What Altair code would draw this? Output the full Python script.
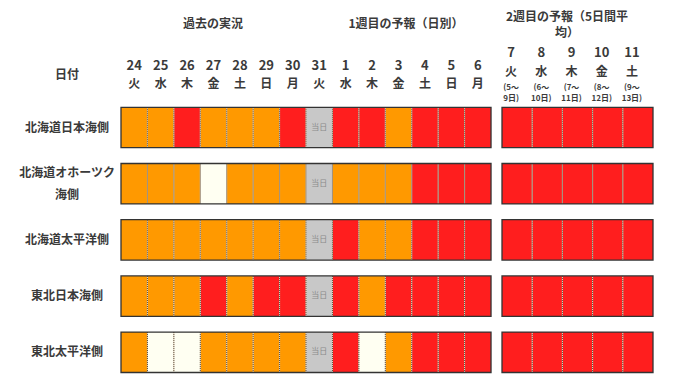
import altair as alt
import pandas as pd

# ---------------- data ----------------
regions = ["北海道日本海側", "北海道オホーツク\n海側", "北海道太平洋側", "東北日本海側", "東北太平洋側"]

week1_days = ["24", "25", "26", "27", "28", "29", "30", "31", "1", "2", "3", "4", "5", "6"]
week1_wd = ["火", "水", "木", "金", "土", "日", "月", "火", "水", "木", "金", "土", "日", "月"]

week2_days = ["7", "8", "9", "10", "11"]
week2_wd = ["火", "水", "木", "金", "土"]
week2_from = ["(5～", "(6～", "(7～", "(8～", "(9～"]
week2_to = ["9日)", "10日)", "11日)", "12日)", "13日)"]

# categories: H = 高い (orange), VH = かなり高い (red), N = 平年並 (cream), T = 当日 (gray)
week1_cat = [
    ["H", "H", "VH", "H", "H", "H", "VH", "T", "VH", "VH", "H", "VH", "VH", "VH"],
    ["H", "H", "H", "N", "H", "H", "H", "T", "H", "H", "H", "VH", "VH", "VH"],
    ["H", "H", "H", "H", "H", "H", "H", "T", "VH", "H", "H", "VH", "VH", "VH"],
    ["H", "H", "H", "VH", "H", "VH", "VH", "T", "VH", "H", "VH", "VH", "VH", "VH"],
    ["H", "N", "N", "H", "H", "H", "H", "T", "VH", "N", "H", "VH", "VH", "VH"],
]
week2_cat = [
    ["VH", "VH", "VH", "VH", "VH"],
    ["VH", "VH", "VH", "VH", "VH"],
    ["VH", "VH", "VH", "VH", "VH"],
    ["VH", "VH", "VH", "VH", "VH"],
    ["VH", "VH", "VH", "VH", "VH"],
]

cat_domain = ["H", "VH", "N", "T"]
cat_colors = ["#FF9900", "#FF1E1E", "#FFFFF2", "#C8C8C8"]

header_past = "過去の実況"
header_w1 = "1週目の予報（日別）"
header_w2_a = "2週目の予報（5日間平"
header_w2_b = "均）"
header_date = "日付"
today_label = "当日"

# ---------------- layout (scale units) ----------------
W, H = 664, 366
CELL = 26.43          # px per week-1 cell
X0_PX = 121 - 8       # left edge of block 1 in chart px
XMIN = -X0_PX / CELL
XMAX = XMIN + W / CELL
W2_START = (502 - 8 - X0_PX) / CELL
W2_CELL = 30.2 / CELL

ROW0 = 127.5 - 8
PITCH = 56.2
YMIN = -ROW0 / PITCH
YMAX = YMIN + H / PITCH
HALF = 20.2 / PITCH
LABEL_LH = 22


def xpx(p):
    return (p - 8 - X0_PX) / CELL


def ypx(p):
    return (p - 8 - ROW0) / PITCH


FONT = "Noto Sans CJK JP"
TXT = "#3a3a3a"

xs = alt.Scale(domain=[XMIN, XMAX], nice=False, zero=False)
ys = alt.Scale(domain=[YMIN, YMAX], nice=False, zero=False, reverse=True)

# ---------------- build tables ----------------
cells, divs, boxes = [], [], []
for r in range(len(regions)):
    for i, c in enumerate(week1_cat[r]):
        cells.append(dict(x=i, x2=i + 1, y=r - HALF, y2=r + HALF, cat=c,
                          t=today_label if c == "T" else "", xc=i + 0.5, yc=r))
        if i > 0:
            divs.append(dict(x=i, y=r - HALF, y2=r + HALF))
    boxes.append(dict(x=0, x2=len(week1_cat[r]), y=r - HALF, y2=r + HALF))
    for i, c in enumerate(week2_cat[r]):
        a = W2_START + i * W2_CELL
        cells.append(dict(x=a, x2=a + W2_CELL, y=r - HALF, y2=r + HALF, cat=c,
                          t="", xc=a + W2_CELL / 2, yc=r))
        if i > 0:
            divs.append(dict(x=a, y=r - HALF, y2=r + HALF))
    boxes.append(dict(x=W2_START, x2=W2_START + 5 * W2_CELL, y=r - HALF, y2=r + HALF))

cells = pd.DataFrame(cells)
divs = pd.DataFrame(divs)
boxes = pd.DataFrame(boxes)

# multi-line labels: first line is anchored, so shift block up to center it on the row
rowlab = pd.DataFrame(dict(
    x=[xpx(67)] * len(regions),
    y=[r - (regions[r].count("\n") * LABEL_LH / 2) / PITCH for r in range(len(regions))],
    t=regions,
))

w1_hdr = pd.DataFrame(dict(x=[i + 0.5 for i in range(14)], d=week1_days, w=week1_wd))
w2c = [W2_START + (i + 0.5) * W2_CELL for i in range(5)]
w2_hdr = pd.DataFrame(dict(x=w2c, d=week2_days, w=week2_wd, f=week2_from, t=week2_to))

titles = pd.DataFrame(dict(
    x=[xpx(213), xpx(406), xpx(567), xpx(567), xpx(67)],
    y=[ypx(24), ypx(24), ypx(17), ypx(33), ypx(75)],
    t=[header_past, header_w1, header_w2_a, header_w2_b, header_date],
))

# ---------------- layers ----------------
rects = alt.Chart(cells).mark_rect(strokeWidth=0).encode(
    x=alt.X("x:Q", scale=xs, axis=None), x2="x2",
    y=alt.Y("y:Q", scale=ys, axis=None), y2="y2",
    color=alt.Color("cat:N", scale=alt.Scale(domain=cat_domain, range=cat_colors), legend=None),
)

div_light = alt.Chart(divs).mark_rule(color="#f3e6cf", strokeWidth=1).encode(
    x=alt.X("x:Q", scale=xs), y=alt.Y("y:Q", scale=ys), y2="y2")
div_dark = alt.Chart(divs).mark_rule(color="#4a3a2a", strokeWidth=1, strokeDash=[1, 1]).encode(
    x=alt.X("x:Q", scale=xs), y=alt.Y("y:Q", scale=ys), y2="y2")

outline = alt.Chart(boxes).mark_rect(fillOpacity=0, stroke="#333333", strokeWidth=1.3).encode(
    x=alt.X("x:Q", scale=xs), x2="x2", y=alt.Y("y:Q", scale=ys), y2="y2")

today = alt.Chart(cells).mark_text(font=FONT, fontSize=8, color="#8a8a8a").encode(
    x=alt.X("xc:Q", scale=xs), y=alt.Y("yc:Q", scale=ys), text="t:N")

rowtext = alt.Chart(rowlab).mark_text(font=FONT, fontSize=12, fontWeight="bold", color=TXT,
                                      lineBreak="\n", lineHeight=LABEL_LH).encode(
    x=alt.X("x:Q", scale=xs), y=alt.Y("y:Q", scale=ys), text="t:N")

titletext = alt.Chart(titles).mark_text(font=FONT, fontSize=12, fontWeight="bold", color=TXT).encode(
    x=alt.X("x:Q", scale=xs), y=alt.Y("y:Q", scale=ys), text="t:N")

w1_num = alt.Chart(w1_hdr).mark_text(font=FONT, fontSize=13, fontWeight="bold", color=TXT).encode(
    x=alt.X("x:Q", scale=xs), y=alt.value(66 - 8), text="d:N")
w1_wd = alt.Chart(w1_hdr).mark_text(font=FONT, fontSize=12, fontWeight="bold", color=TXT).encode(
    x=alt.X("x:Q", scale=xs), y=alt.value(84 - 8), text="w:N")

w2_num = alt.Chart(w2_hdr).mark_text(font=FONT, fontSize=13, fontWeight="bold", color=TXT, dx=-6).encode(
    x=alt.X("x:Q", scale=xs), y=alt.value(53 - 8), text="d:N")
w2_wd = alt.Chart(w2_hdr).mark_text(font=FONT, fontSize=12, fontWeight="bold", color=TXT, dx=-6).encode(
    x=alt.X("x:Q", scale=xs), y=alt.value(72 - 8), text="w:N")
w2_f = alt.Chart(w2_hdr).mark_text(font=FONT, fontSize=8, fontWeight="bold", color=TXT, dx=-6).encode(
    x=alt.X("x:Q", scale=xs), y=alt.value(88 - 8), text="f:N")
w2_t = alt.Chart(w2_hdr).mark_text(font=FONT, fontSize=8, fontWeight="bold", color=TXT, dx=-6).encode(
    x=alt.X("x:Q", scale=xs), y=alt.value(99 - 8), text="t:N")

chart = alt.layer(
    rects, div_light, div_dark, outline, today, rowtext, titletext,
    w1_num, w1_wd, w2_num, w2_wd, w2_f, w2_t,
).properties(
    width=W, height=H, padding=0,
    autosize=alt.AutoSizeParams(type="fit", contains="padding"),
    background="white",
).configure_view(stroke=None)

chart.save("out.html", embed_options={"renderer": "svg", "actions": False})
